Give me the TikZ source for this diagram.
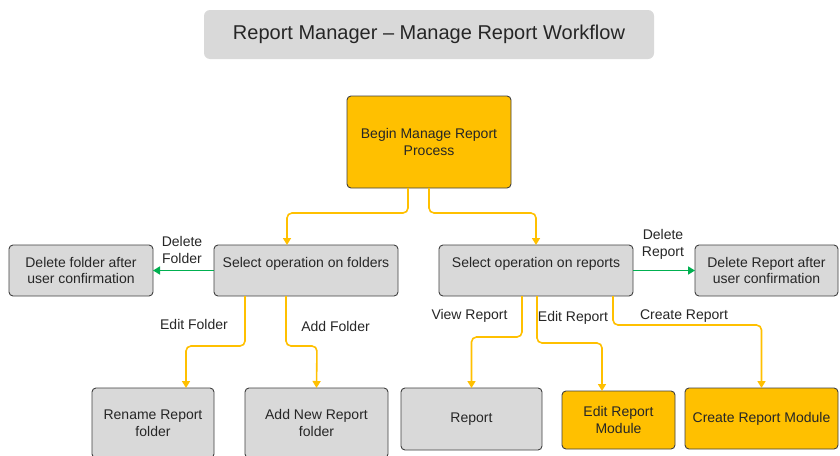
\documentclass[tikz,border=0pt]{standalone}
\usepackage{fontspec}
\setmainfont{Liberation Sans}
\usetikzlibrary{arrows.meta}
\definecolor{boxgray}{HTML}{D9D9D9}
\definecolor{boxorange}{HTML}{FFC000}
\definecolor{bordercol}{HTML}{404040}
\definecolor{txtcol}{HTML}{262626}
\definecolor{flowyellow}{HTML}{FFC000}
\definecolor{flowgreen}{HTML}{00B050}
\tikzset{
  box/.style={draw=bordercol, fill=boxgray, rounded corners=4pt, line width=0.9pt,
    align=center, font=\fontsize{14}{16.5}\selectfont, text=txtcol,
    inner sep=2pt, outer sep=0pt},
  obox/.style={box, fill=boxorange},
  titlebox/.style={fill=boxgray, rounded corners=6pt, align=center,
    font=\fontsize{20}{24}\selectfont, text=txtcol, inner sep=0pt, outer sep=0pt},
  lbl/.style={align=center, font=\fontsize{14}{16.5}\selectfont, text=txtcol, inner sep=0pt},
  ya/.style={draw=flowyellow, line width=1.6pt, rounded corners=5pt,
    -{Triangle[length=7pt,width=8pt]}},
  ga/.style={draw=flowgreen, line width=1.6pt, -{Triangle[length=7pt,width=8pt]}},
}
\begin{document}
\begin{tikzpicture}[x=1pt,y=-1pt]
\useasboundingbox (0,0) rectangle (840,455);
\clip (0,0) rectangle (840,455);
\fill[white] (0,0) rectangle (840,455);

\node[titlebox, minimum width=450pt, minimum height=49pt] (title) at (429,34.5) {Report Manager – Manage Report Workflow};

\node[obox, minimum width=164pt, minimum height=92pt] (begin) at (429,142) {Begin Manage Report\\Process};

\node[box, minimum width=144pt, minimum height=51pt] (delf) at (81,270.5) {Delete folder after\\user confirmation};
\node[box, minimum width=184pt, minimum height=51pt] (fold) at (306,270.5) {Select operation on folders\\\mbox{}};
\node[box, minimum width=194pt, minimum height=51pt] (reps) at (536,270.5) {Select operation on reports\\\mbox{}};
\node[box, minimum width=143pt, minimum height=51pt] (delr) at (766.5,270.5) {Delete Report after\\user confirmation};

\node[box, minimum width=122pt, minimum height=70pt] (rename) at (153,423) {Rename Report\\folder};
\node[box, minimum width=143pt, minimum height=70pt] (addnew) at (316.5,423) {Add New Report\\folder};
\node[box, minimum width=141pt, minimum height=62pt] (report) at (471.5,419) {Report};
\node[obox, minimum width=113pt, minimum height=58pt] (editm) at (618.5,420) {Edit Report\\Module};
\node[obox, minimum width=153pt, minimum height=61pt] (createm) at (761.5,418.5) {Create Report Module};

% connectors
\draw[ya] ([xshift=-21pt]begin.south) |- (287,213) -- ([xshift=-19pt]fold.north);
\draw[ya] (begin.south) |- (536,213) -- (reps.north);

\draw[ga] (fold.west) -- (delf.east);
\draw[ga] (reps.east) -- (delr.west);

\draw[ya] ([xshift=-61pt]fold.south) |- (186,346) -- ([xshift=33pt]rename.north);
\draw[ya] ([xshift=-20pt]fold.south) |- (317,346) -- (addnew.north);

\draw[ya] ([xshift=-14pt]reps.south) |- (471.5,337) -- (report.north);
\draw[ya] ([xshift=1pt]reps.south) |- (602,343) -- ([xshift=-16.5pt]editm.north);
\draw[ya] ([xshift=77pt]reps.south) |- (761.5,325) -- (createm.north);

% labels
\node[lbl] (lDelF) at (182,250) {Delete\\Folder};
\node[lbl] (lDelR) at (663,244.5) {Delete\\Report};
\node[lbl] (lEditF) at (194,324) {Edit Folder};
\node[lbl] (lAddF) at (335.5,326) {Add Folder};
\node[lbl] (lView) at (469.5,316) {View Report};
\node[lbl] (lEditR) at (573,318) {Edit Report};
\node[lbl] (lCreate) at (684,316) {Create Report};
\end{tikzpicture}
\end{document}
